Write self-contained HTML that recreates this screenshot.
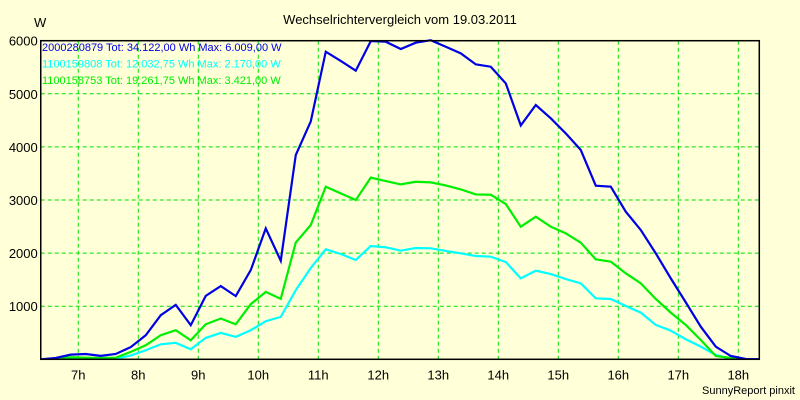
<!DOCTYPE html>
<html><head><meta charset="utf-8"><style>
html,body{margin:0;padding:0;background:#ffffd8;}
svg{display:block;font-family:"Liberation Sans",sans-serif;}
</style></head><body>
<svg id="chart" width="800" height="400">
<rect x="0" y="0" width="800" height="400" fill="#ffffd8"/>
<text x="400" y="24" text-anchor="middle" font-size="13" fill="#000">Wechselrichtervergleich vom 19.03.2011</text>
<text x="34" y="27" font-size="13" fill="#000">W</text>
<text x="795" y="394" text-anchor="end" font-size="11" fill="#000">SunnyReport pinxit</text>
<g id="grid"></g><g id="series"></g><g id="axes"></g><g id="legend"></g>
</svg>
<script>
const times=[6.375,6.625,6.875,7.125,7.375,7.625,7.875,8.125,8.375,8.625,8.875,9.125,9.375,9.625,9.875,10.125,10.375,10.625,10.875,11.125,11.375,11.625,11.875,12.125,12.375,12.625,12.875,13.125,13.375,13.625,13.875,14.125,14.375,14.625,14.875,15.125,15.375,15.625,15.875,16.125,16.375,16.625,16.875,17.125,17.375,17.625,17.875,18.125,18.375];
const blueVals=[0,25,88,100,64,100,230,453,830,1025,642,1195,1378,1190,1680,2465,1855,3847,4480,5793,5619,5435,5993,5981,5843,5962,6009,5887,5762,5554,5510,5196,4405,4789,4538,4254,3941,3270,3251,2780,2435,1995,1524,1072,614,238,62,6,0];
const cyanVals=[0,5,10,10,10,15,70,170,283,310,189,403,497,422,547,717,799,1302,1720,2071,1983,1870,2134,2109,2046,2096,2090,2040,1996,1945,1932,1832,1524,1669,1606,1512,1431,1148,1136,1004,879,647,540,377,238,81,12,0,0];
const greenVals=[0,10,40,30,25,30,140,265,453,547,358,660,768,660,1038,1270,1139,2200,2529,3250,3124,2999,3421,3357,3294,3344,3332,3275,3200,3105,3099,2924,2497,2686,2497,2372,2196,1882,1839,1619,1431,1136,879,647,364,62,25,0,0];
const seriesNames=["2000280879","1100159808","1100158753"];
const legendTexts=["2000280879 Tot: 34.122,00 Wh Max: 6.009,00 W","1100159808 Tot: 12.032,75 Wh Max: 2.170,00 W","1100158753 Tot: 19.261,75 Wh Max: 3.421,00 W"];
const yTicks=[1000,2000,3000,4000,5000,6000];
const xTicks=[7,8,9,10,11,12,13,14,15,16,17,18];
const xTickLabels=["7h","8h","9h","10h","11h","12h","13h","14h","15h","16h","17h","18h"];

const L=40.75,R=759.3,T=40.7,B=359.3;
const xMin=6.375,xMax=18.35,yMax=6000;
const X=t=>L+(t-xMin)/(xMax-xMin)*(R-L);
const Y=v=>B-v/yMax*(B-T);
const NS="http://www.w3.org/2000/svg";
function mk(tag,parent,attrs){const e=document.createElementNS(NS,tag);for(const k in attrs)e.setAttribute(k,attrs[k]);parent.appendChild(e);return e;}
const grid=document.getElementById('grid'),axes=document.getElementById('axes'),ser=document.getElementById('series'),leg=document.getElementById('legend');
const svg=document.getElementById('chart');
const defs=mk('defs',svg,{});
const cp=mk('clipPath',defs,{id:'clip'});
mk('rect',cp,{x:L,y:T-2,width:R-L,height:B-T+2});
yTicks.forEach(v=>{
  const l=mk('line',grid,{x1:L,x2:R,y1:Y(v),y2:Y(v),stroke:'#00e000','stroke-dasharray':'4,3','stroke-width':1});
  
  
  const t=mk('text',axes,{x:L-3,y:Y(v)+5,'text-anchor':'end','font-size':13,fill:'#000'});
  t.textContent=v;
  
  
});
xTicks.forEach((h,i)=>{
  const l=mk('line',grid,{x1:X(h),x2:X(h),y1:T,y2:B,stroke:'#00e000','stroke-dasharray':'4,3','stroke-width':1});
  
  
  const t=mk('text',axes,{x:X(h),y:B+20,'text-anchor':'middle','font-size':13,fill:'#000'});
  t.textContent=xTickLabels[i];
  
  
});
const frame=mk('rect',axes,{x:L,y:T,width:R-L,height:B-T,fill:'none',stroke:'#000','stroke-width':1.5});


const all=[[blueVals,'#0000e6'],[cyanVals,'#00ffff'],[greenVals,'#00ee00']];
[all[1],all[2],all[0]].forEach(([vals,col])=>{
  const p=mk('polyline',ser,{points:vals.map((v,i)=>X(times[i])+','+Y(v)).join(' '),fill:'none',stroke:col,'stroke-width':2.2,'clip-path':'url(#clip)'});
  
  
});
legendTexts.forEach((s,i)=>{
  const t=mk('text',leg,{x:42,y:51+i*16.5,'font-size':11,fill:all[i][1]});
  t.textContent=s;
  
  
});
</script>
</body></html>
